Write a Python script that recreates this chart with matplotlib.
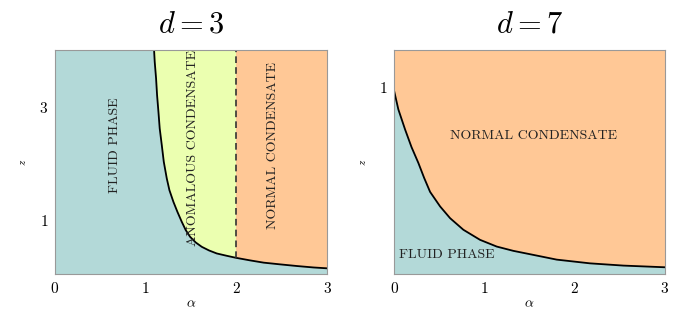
import matplotlib
matplotlib.use("Agg")
import matplotlib.pyplot as plt

plt.rcParams['font.family'] = 'serif'
plt.rcParams['font.serif'] = ['cmr10']
plt.rcParams['mathtext.fontset'] = 'cm'
plt.rcParams['axes.formatter.use_mathtext'] = True

# phase boundary, d = 3
alpha_d3 = [1.092, 1.099, 1.114, 1.125, 1.140, 1.154, 1.177, 1.199, 1.232,
            1.261, 1.305, 1.349, 1.397, 1.441, 1.489, 1.551, 1.618, 1.698,
            1.783, 1.893, 1.996, 2.15, 2.30, 2.48, 2.67, 2.85, 3.0]
z_d3 = [4.0, 3.794, 3.500, 3.206, 2.912, 2.618, 2.323, 2.029, 1.735,
        1.529, 1.323, 1.147, 0.971, 0.824, 0.706, 0.606, 0.529, 0.465,
        0.412, 0.371, 0.335, 0.29, 0.25, 0.22, 0.19, 0.165, 0.15]
alpha_anom = 2.0
z_anom = 0.335

# phase boundary, d = 7
alpha_d7 = [0.0, 0.044, 0.119, 0.19, 0.266, 0.33, 0.396, 0.507, 0.618,
            0.765, 0.95, 1.135, 1.319, 1.504, 1.80, 2.17, 2.54, 3.0]
z_d7 = [0.975, 0.882, 0.774, 0.68, 0.595, 0.515, 0.44, 0.362, 0.299,
        0.237, 0.183, 0.147, 0.124, 0.106, 0.077, 0.057, 0.045, 0.036]

c_fluid = '#b3d9d8'
c_anom = '#ebffb0'
c_norm = '#ffc896'

fig = plt.figure(figsize=(6.73, 3.11), dpi=100)
ax1 = fig.add_axes([0.0817, 0.119, 0.4045, 0.72])
ax2 = fig.add_axes([0.586, 0.119, 0.402, 0.72])

# left panel
ylo, yhi = 0.05, 4.0
ax1.axvspan(0, alpha_anom, color=c_anom, lw=0)
ax1.axvspan(alpha_anom, 3, color=c_norm, lw=0)
ax1.fill_between([0] + alpha_d3, [yhi] + z_d3, ylo, color=c_fluid, lw=0)
ax1.plot(alpha_d3, z_d3, color='black', lw=1.3)
ax1.plot([alpha_anom, alpha_anom], [z_anom, yhi], color='#333333', lw=1.2,
         ls=(0, (4, 2.5)))
ax1.set_xlim(0, 3)
ax1.set_ylim(ylo, yhi)
ax1.set_xticks([0, 1, 2, 3])
ax1.set_yticks([1, 3])
ax1.text(0.66, 2.32, 'FLUID PHASE', rotation=90, ha='center', va='center',
         fontsize=10, color='#222222')
ax1.text(1.525, 2.28, 'ANOMALOUS CONDENSATE', rotation=90, ha='center',
         va='center', fontsize=10, color='#222222')
ax1.text(2.40, 2.32, 'NORMAL CONDENSATE', rotation=90, ha='center',
         va='center', fontsize=10, color='#222222')
ax1.set_title('$d=3$', fontsize=22, pad=13)

# right panel
ylo2, yhi2 = 0.0, 1.2
ax2.set_facecolor(c_norm)
ax2.fill_between(alpha_d7, z_d7, ylo2, color=c_fluid, lw=0)
ax2.plot(alpha_d7, z_d7, color='black', lw=1.3)
ax2.set_xlim(0, 3)
ax2.set_ylim(ylo2, yhi2)
ax2.set_xticks([0, 1, 2, 3])
ax2.set_yticks([1])
ax2.text(1.54, 0.74, 'NORMAL CONDENSATE', ha='center', va='center',
         fontsize=10, color='#222222')
ax2.text(0.055, 0.10, 'FLUID PHASE', ha='left', va='center',
         fontsize=10, color='#222222')
ax2.set_title('$d=7$', fontsize=22, pad=13)

for ax in (ax1, ax2):
    for s in ax.spines.values():
        s.set_color('#999999')
    ax.tick_params(length=0, labelsize=11, pad=5)
    ax.set_xlabel(r'$\alpha$', fontsize=10, labelpad=2)
    ax.set_ylabel(r'$z$', fontsize=8, labelpad=8)

fig.savefig('out.png', dpi=100)
